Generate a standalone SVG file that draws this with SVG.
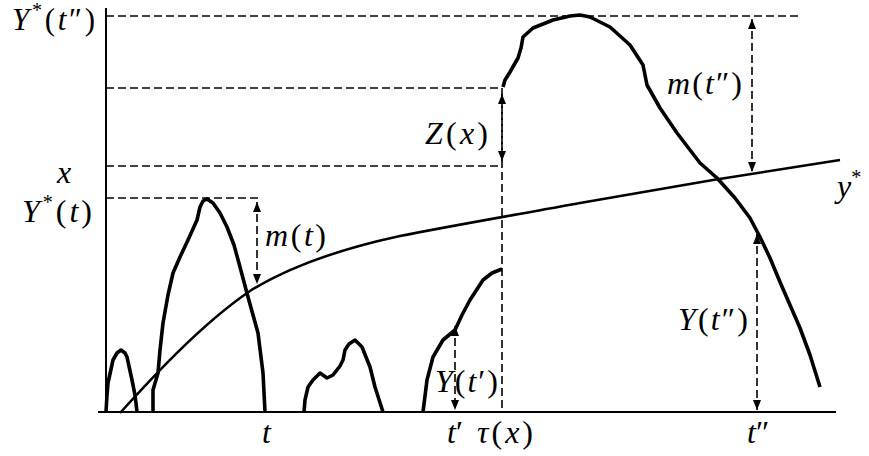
<svg xmlns="http://www.w3.org/2000/svg" width="869" height="456" viewBox="0 0 869 456">
<defs>
<style>
.ax{stroke:#000;stroke-width:2;fill:none}
.dash{stroke:#000;stroke-width:1.6;stroke-dasharray:8 4;fill:none}
.ys{stroke:#000;stroke-width:2.6;fill:none;stroke-linejoin:round}
.yp{stroke:#000;stroke-width:3.6;fill:none;stroke-linejoin:round;stroke-linecap:butt}
.lbl{font-family:"Liberation Serif","DejaVu Serif",serif;font-size:32px;fill:#000}
.i{font-style:italic}
</style>
<marker id="ah" viewBox="0 0 10 10" refX="10" refY="5" markerWidth="10" markerHeight="8" markerUnits="userSpaceOnUse" orient="auto-start-reverse" preserveAspectRatio="none">
<path d="M0,0 L10,5 L0,10 Z" fill="#000"/>
</marker>
</defs>
<rect width="869" height="456" fill="#fff"/>
<g id="axes">
<line class="ax" x1="106" y1="8" x2="106" y2="412"/>
<line class="ax" x1="98" y1="412" x2="836" y2="412"/>
</g>
<g id="connectors">
<line class="dash" x1="106" y1="16" x2="798" y2="16"/>
<line class="dash" x1="106" y1="88" x2="500" y2="88"/>
<line class="dash" x1="106" y1="166" x2="500" y2="166"/>
<line class="dash" x1="106" y1="198" x2="258" y2="198"/>
<line class="dash" x1="502" y1="88" x2="502" y2="412"/>
<line class="dash" x1="257" y1="202" x2="257" y2="284" marker-start="url(#ah)" marker-end="url(#ah)"/>
<line class="dash" x1="502" y1="94" x2="502" y2="161" marker-start="url(#ah)" marker-end="url(#ah)"/>
<line class="dash" x1="752" y1="19" x2="752" y2="172" marker-start="url(#ah)" marker-end="url(#ah)"/>
<line class="dash" x1="455" y1="326" x2="455" y2="410" marker-start="url(#ah)" marker-end="url(#ah)"/>
<line class="dash" x1="757" y1="234" x2="757" y2="410" marker-start="url(#ah)" marker-end="url(#ah)"/>
</g>
<g id="ystar">
<path class="ys" d="M120,413 C150,380 200,325 250,291 C290,266 340,249 400,236 C450,226 520,214 580,203 L713,180 L840,160"/>
</g>
<g id="process">
<path class="yp" d="M106,412 L107,395 L108,383 L113,360 L117,353 L121,350 L125,353 L127,357 L132,380 L135,395 L137,412"/>
<path class="yp" d="M153,412 L153,390 L158,373 L160,350 L163,323 L168,295 L173,273 L180,257 L188,240 L197,220 L200,207 L203,201 L207,199 L213,203 L220,213 L227,227 L234,245 L240,267 L248,297 L258,333 L263,373 L265,412"/>
<path class="yp" d="M304,412 L305,400 L308,387 L313,380 L320,373 L327,378 L333,375 L340,366 L343,360 L345,350 L349,344 L355,340 L362,347 L370,367 L375,387 L383,412"/>
<path class="yp" d="M423,412 L427,380 L433,357 L443,340 L455,330 L462,315 L470,300 L483,280 L492,273 L502,269"/>
<path class="yp" d="M503,87 L505,80 L510,72 L518,58 L521,48 L523,37 L533,28 L553,20 L570,16 L580,15 L590,17 L610,27 L630,45 L643,65 L647,85 L660,108 L677,133 L700,163 L717,178 L735,198 L750,218 L760,237 L770,258 L780,282 L790,305 L800,328 L810,355 L820,387"/>
</g>
<g id="labels" class="lbl">
<text x="12" y="30" font-size="31" textLength="83" lengthAdjust="spacing"><tspan class="i">Y</tspan><tspan font-size="20" dy="-13">*</tspan><tspan dy="13">(</tspan><tspan class="i">t</tspan>″)</text>
<text x="57" y="183" class="i">x</text>
<text x="22" y="222" textLength="70" lengthAdjust="spacing"><tspan class="i">Y</tspan><tspan font-size="20" dy="-13">*</tspan><tspan dy="13">(</tspan><tspan class="i">t</tspan>)</text>
<text x="265" y="246" textLength="61" lengthAdjust="spacing"><tspan class="i">m</tspan>(<tspan class="i">t</tspan>)</text>
<text x="425" y="144" textLength="63" lengthAdjust="spacing"><tspan class="i">Z</tspan>(<tspan class="i">x</tspan>)</text>
<text x="667" y="94" textLength="75" lengthAdjust="spacing"><tspan class="i">m</tspan>(<tspan class="i">t</tspan>″)</text>
<text x="837" y="197"><tspan class="i">y</tspan><tspan font-size="20" dy="-13">*</tspan></text>
<text x="262" y="443" class="i">t</text>
<text x="447" y="443"><tspan class="i">t</tspan>′</text>
<text x="477" y="443" textLength="56" lengthAdjust="spacing"><tspan class="i">τ</tspan>(<tspan class="i">x</tspan>)</text>
<text x="747" y="443"><tspan class="i">t</tspan>″</text>
<text x="435" y="392" textLength="63" lengthAdjust="spacing"><tspan class="i">Y</tspan>(<tspan class="i">t</tspan>′)</text>
<text x="678" y="330" textLength="70" lengthAdjust="spacing"><tspan class="i">Y</tspan>(<tspan class="i">t</tspan>″)</text>
</g>
</svg>
